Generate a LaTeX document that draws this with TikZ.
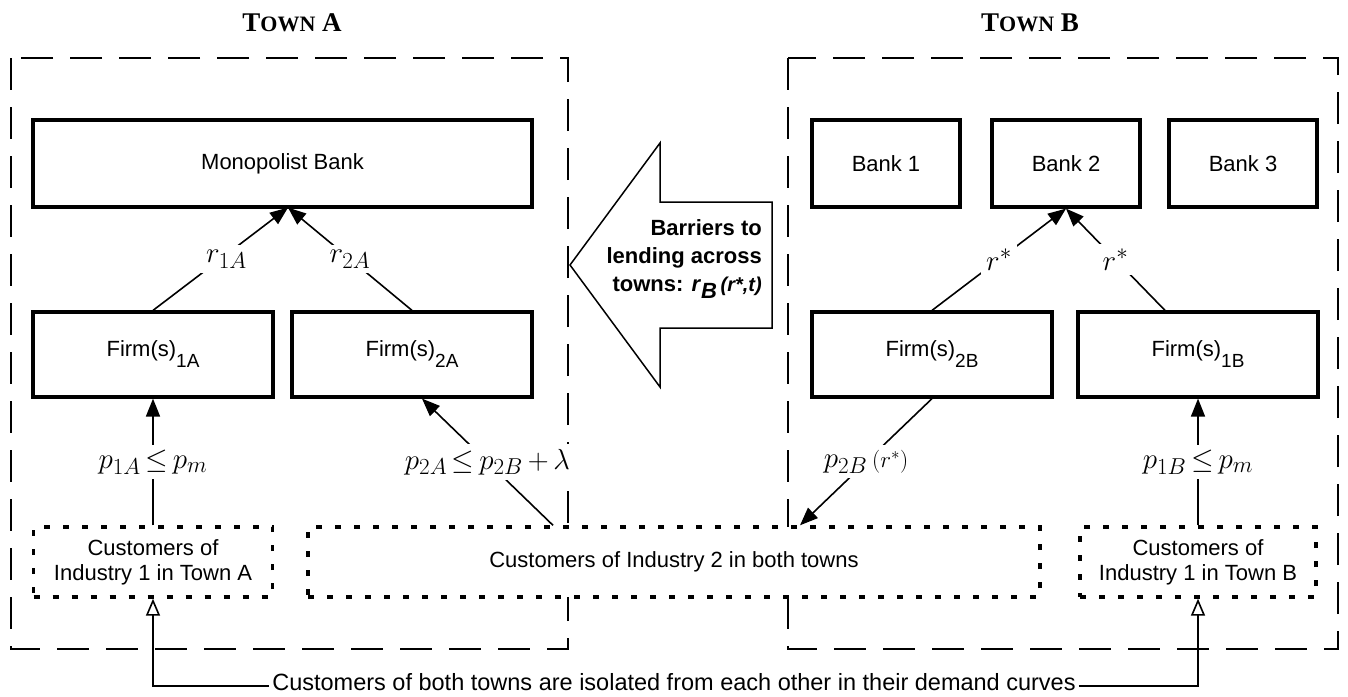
\RequirePackage{fix-cm}
\documentclass[tikz,border=0pt]{standalone}
\usepackage[no-math]{fontspec}
\setmainfont{Liberation Sans}
\newfontfamily\titlefont{Liberation Serif}
\usetikzlibrary{arrows.meta,calc}
\DeclareMathSizes{29}{29}{23}{17}
\thickmuskip=3mu plus 1mu
\medmuskip=3mu plus 1mu
\begin{document}
\begin{tikzpicture}[x=1pt,y=-1pt,
  box/.style={draw, line width=3.2pt, rectangle, font=\fontsize{22}{25}\selectfont, align=center, inner sep=0pt},
  cust/.style={draw, line width=3.4pt, dash pattern=on 6pt off 13pt, fill=white, rectangle, align=center, font=\fontsize{22}{25}\selectfont, inner sep=0pt},
  town/.style={draw, line width=2pt, dash pattern=on 32pt off 17pt},
  conn/.style={line width=1.6pt},
  arr/.style={conn, -{Triangle[length=18pt,width=14pt]}},
  openarr/.style={conn, -{Triangle[open,length=17pt,width=14pt,line width=1.6pt]}},
  lbl/.style={fill=white, inner sep=5pt, font=\fontsize{29}{31}\selectfont},
  ttl/.style={font=\titlefont\bfseries}
]
\useasboundingbox (0,0) rectangle (1348,696);
% town frames
\draw[town] (11,58) rectangle (568,649);
\draw[town] (788,58) rectangle (1338,649);
\node[ttl] (tA) at (292,23) {\fontsize{27}{27}\selectfont T{\fontsize{22}{22}\selectfont OWN} A};
\node[ttl] (tB) at (1030,23) {\fontsize{27}{27}\selectfont T{\fontsize{22}{22}\selectfont OWN} B};
% banks
\node[box, minimum width=499pt, minimum height=87pt] (mono) at (282.5,163.5) {Monopolist Bank};
\node[box, minimum width=148pt, minimum height=87pt] (b1) at (886,163.5) {Bank 1};
\node[box, minimum width=148pt, minimum height=87pt] (b2) at (1066,163.5) {Bank 2};
\node[box, minimum width=148pt, minimum height=87pt] (b3) at (1243,163.5) {Bank 3};
% firms
\node[box, minimum width=240pt, minimum height=85pt] (f1A) at (153,354.5) {Firm(s)\raisebox{-11pt}{\fontsize{19}{19}\selectfont 1A}};
\node[box, minimum width=240pt, minimum height=85pt] (f2A) at (412,354.5) {Firm(s)\raisebox{-11pt}{\fontsize{19}{19}\selectfont 2A}};
\node[box, minimum width=240pt, minimum height=85pt] (f2B) at (932,354.5) {Firm(s)\raisebox{-11pt}{\fontsize{19}{19}\selectfont 2B}};
\node[box, minimum width=240pt, minimum height=85pt] (f1B) at (1198,354.5) {Firm(s)\raisebox{-11pt}{\fontsize{19}{19}\selectfont 1B}};
% customers
\node[cust, minimum width=239pt, minimum height=70pt] (c1A) at (153,562) {Customers of\\Industry 1 in Town A};
\node[cust, minimum width=732pt, minimum height=70pt] (c2) at (674,562) {Customers of Industry 2 in both towns};
\node[cust, minimum width=236pt, minimum height=70pt] (c1B) at (1198,562) {Customers of\\Industry 1 in Town B};
% big arrow
\draw[line width=1.5pt, line join=miter] (772,202) -- (660,202) -- (660,143) -- (570,265) -- (660,387) -- (660,328) -- (772,328) -- cycle;
\node[anchor=east, align=right, inner sep=0pt, font=\fontsize{22}{28}\selectfont\bfseries] (bar) at (762,259) {Barriers to\\lending across\\towns: \textit{r}\raisebox{-7pt}{\textit{B}}\,{\fontsize{20}{20}\selectfont\textit{(r*,t)}}};
% connectors to banks
\coordinate (mAin) at (288,207.6);
\coordinate (b2in) at (1066,208.6);
\draw[arr] (f1A.north) -- node[lbl, xshift=6pt]{$r_{1A}$} (mAin);
\draw[arr] (f2A.north) -- node[lbl]{$r_{2A}$} (mAin);
\draw[arr] (f2B.north) -- node[lbl]{$r^*$} (b2in);
\draw[arr] ($(f1B.north)+(-33,0)$) -- node[lbl]{$r^*$} (b2in);
% connectors to firms / customers
\draw[arr] (c1A.north) -- node[lbl]{$p_{1A}\le p_m$} (f1A.south);
\draw[arr] ($(c2.north)+(-121,0)$) -- node[lbl]{$p_{2A}\le p_{2B}+\lambda$} ($(f2A.south)+(10,0)$);
\draw[arr] (f2B.south) -- node[lbl]{$p_{2B}\,{\scriptstyle(r^*)}$} ($(c2.north)+(126,0)$);
\draw[arr] (c1B.north) -- node[lbl]{$p_{1B}\le p_m$} (f1B.south);
% bottom note
\node[font=\fontsize{23.5}{26}\selectfont, inner xsep=3pt, inner ysep=0pt] (bt) at (674,682) {Customers of both towns are isolated from each other in their demand curves};
\draw[openarr] ($(bt.west)+(0,4)$) -| (c1A.south);
\draw[openarr] ($(bt.east)+(0,4)$) -| (c1B.south);
\end{tikzpicture}
\end{document}
